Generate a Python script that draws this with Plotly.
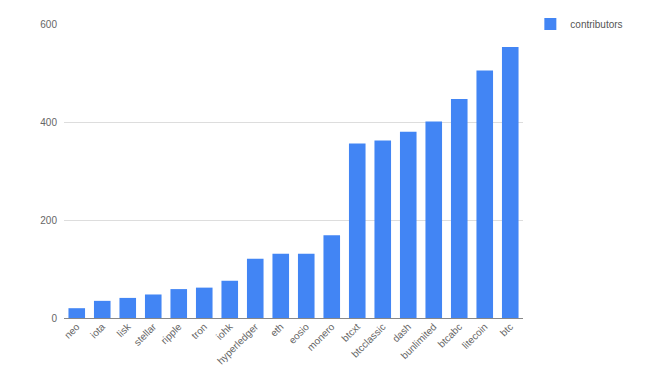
import plotly.graph_objects as go

projects = ["neo", "iota", "lisk", "stellar", "ripple", "tron", "iohk", "hyperledger",
            "eth", "eosio", "monero", "btcxt", "btcclassic", "dash", "bunlimited",
            "btcabc", "litecoin", "btc"]
contributors = [20, 35, 41, 48, 59, 62, 76, 121, 131, 131, 169, 356, 362, 380, 401,
                447, 505, 553]
y_ticks = [0, 200, 400, 600]

fig = go.Figure()

fig.add_trace(go.Bar(
    x=projects,
    y=contributors,
    name="contributors",
    marker=dict(color="#4285f4", line=dict(width=0)),
    showlegend=True,
))

# the page adds an 8px offset, so margins are shifted to compensate
fig.update_layout(
    width=653,
    height=373,
    margin=dict(l=56, r=138, t=16, b=63, autoexpand=False),
    paper_bgcolor="white",
    plot_bgcolor="white",
    font=dict(family="Liberation Sans, Arial, sans-serif", size=10, color="#555555"),
    bargap=0.35,
    legend=dict(
        x=1.016, y=1.0, xanchor="left", yanchor="middle",
        font=dict(size=10, color="#555555"),
        bgcolor="rgba(0,0,0,0)",
        itemsizing="constant",
    ),
)

fig.update_xaxes(
    tickangle=-45,
    showgrid=False,
    showline=False,
    ticks="",
    automargin=False,
    tickfont=dict(size=10, color="#666666"),
)

fig.update_yaxes(
    range=[0, 600],
    tickvals=y_ticks,
    showgrid=True,
    gridcolor="#dddddd",
    gridwidth=1,
    zeroline=True,
    zerolinecolor="#888888",
    zerolinewidth=1,
    ticks="",
    automargin=False,
    ticklabelstandoff=6,
    tickfont=dict(size=10, color="#666666"),
)

fig.write_html("out.html")
